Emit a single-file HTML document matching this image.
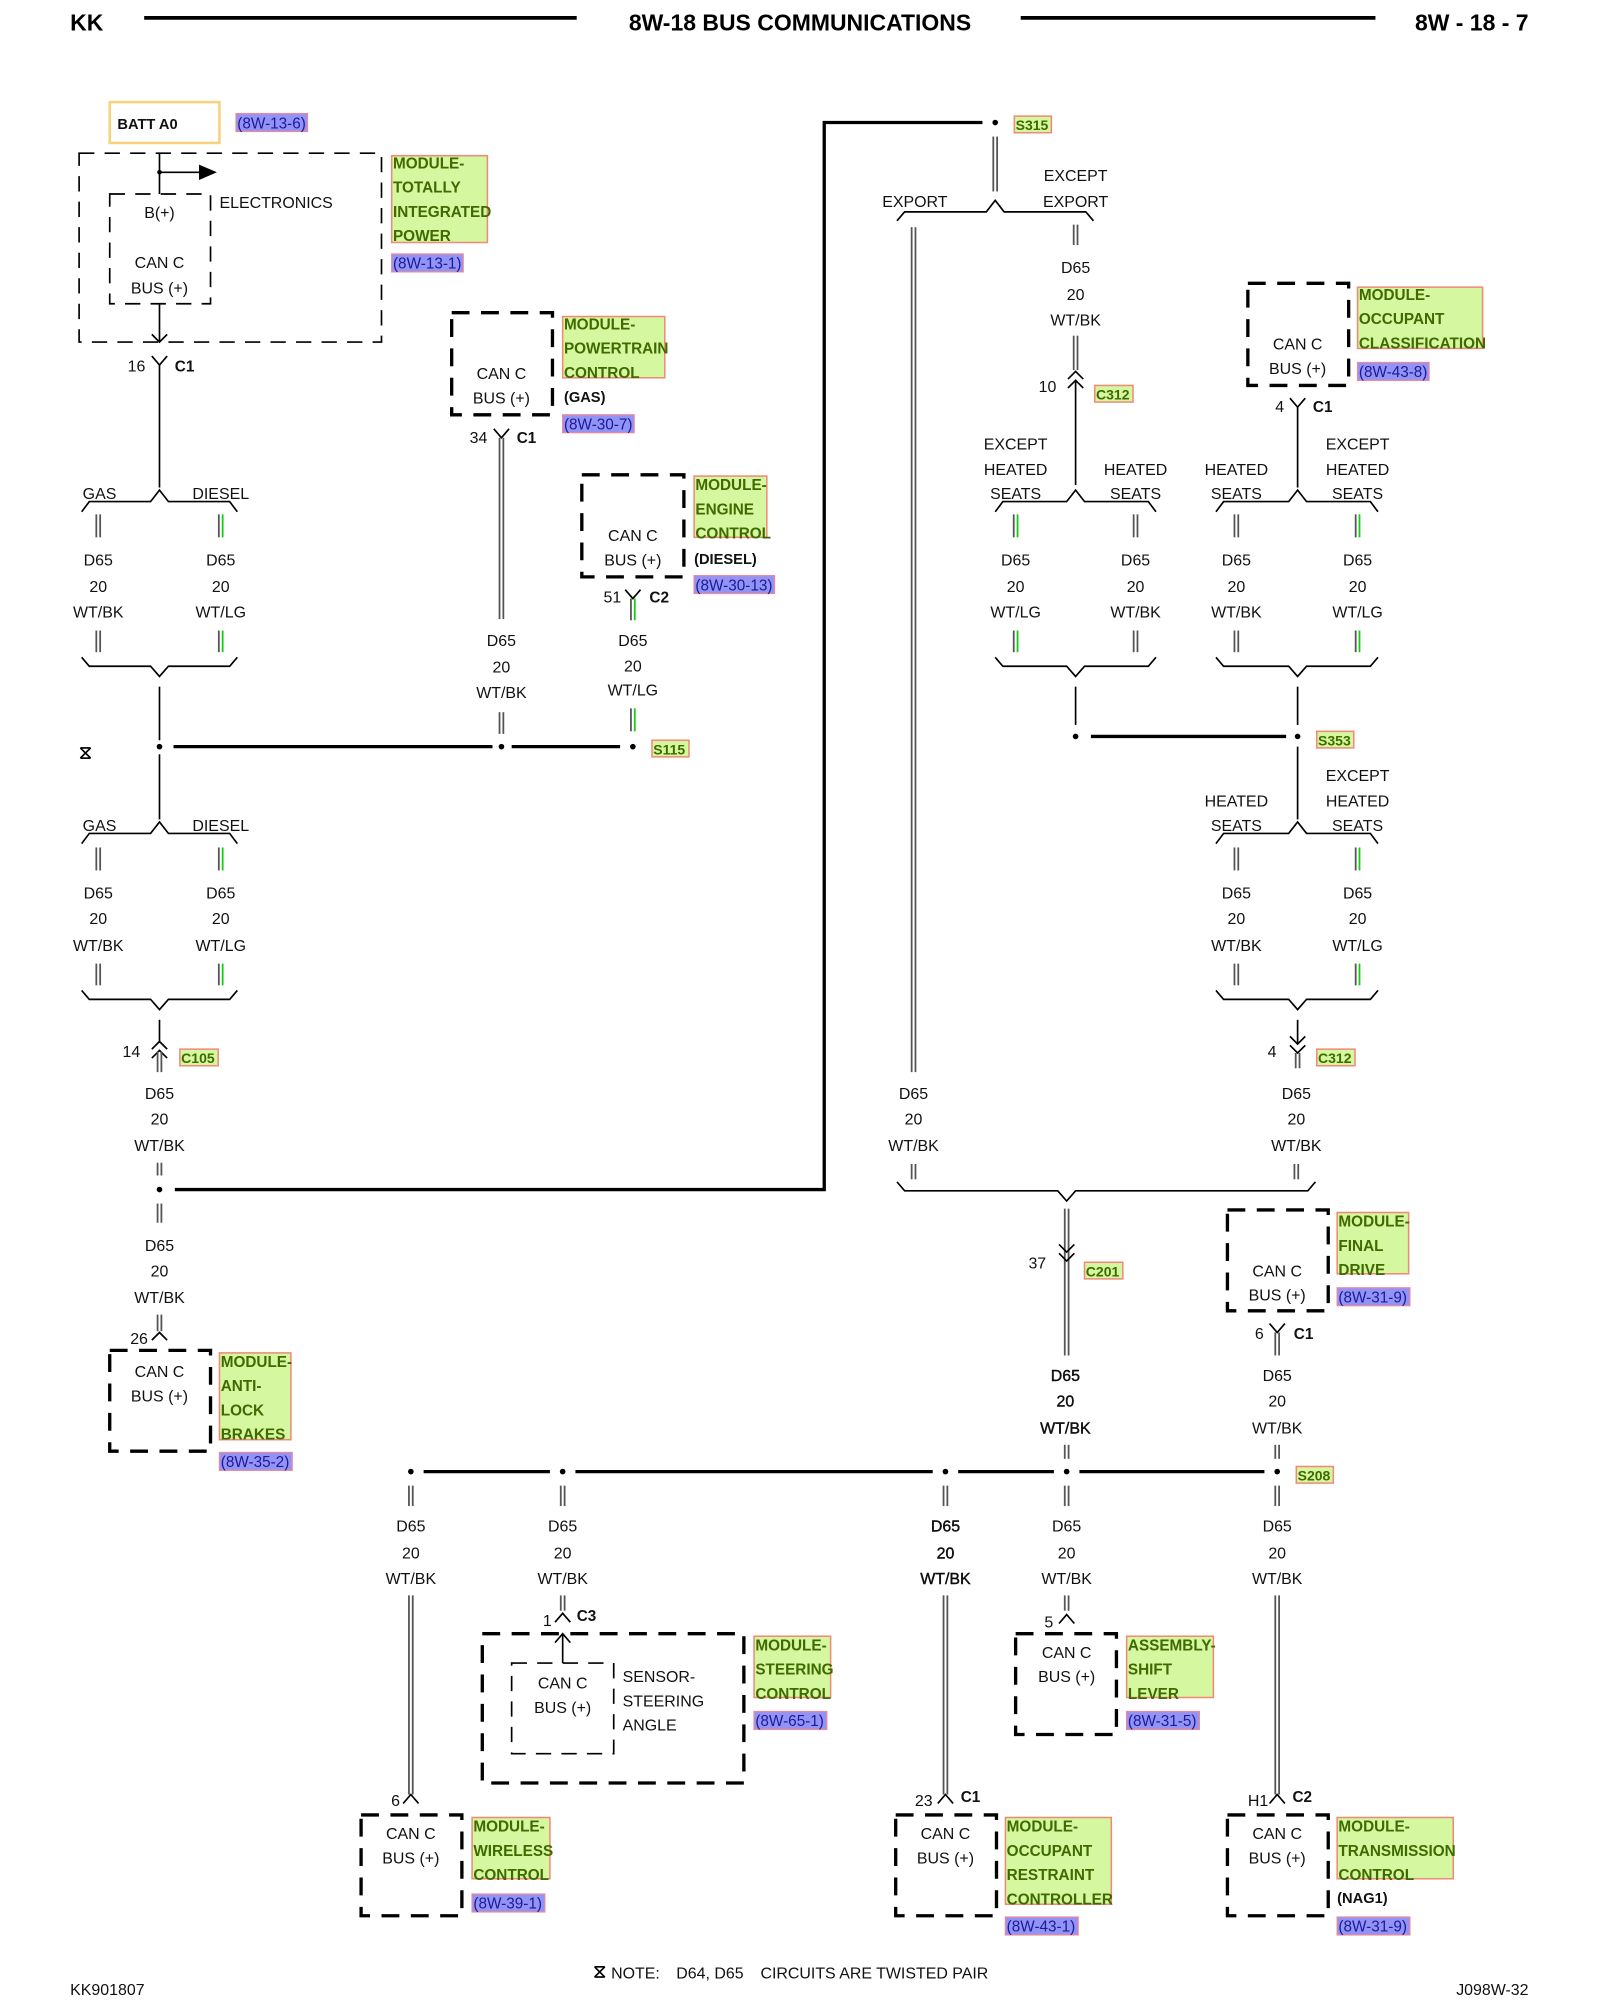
<!DOCTYPE html>
<html><head><meta charset="utf-8"><style>
html,body{margin:0;padding:0;background:#fff}
svg{display:block}
.t{font-family:"Liberation Sans",sans-serif;font-size:12.5px;text-anchor:middle;fill:#111}
.s{font-family:"Liberation Sans",sans-serif;font-size:12.5px;fill:#111}
.b{font-family:"Liberation Sans",sans-serif;font-size:12px;font-weight:bold;fill:#111}
.bt{font-family:"Liberation Sans",sans-serif;font-size:12.5px;font-weight:bold;text-anchor:middle;fill:#111}
.l{font-family:"Liberation Sans",sans-serif;font-size:12px;font-weight:bold;fill:#3f6a00}
.r{font-family:"Liberation Sans",sans-serif;font-size:12px;fill:#1a1a9a}
.lb{fill:#d5f7a0;stroke:#f08a78;stroke-width:1.2}
.rb{fill:#9393f5;stroke:#e88a9a;stroke-width:1}
.w{stroke:#000;stroke-width:1.3;fill:none}
.W{stroke:#000;stroke-width:3;fill:none}
.d{stroke:#555;stroke-width:1.4;fill:none}
.g{stroke:#1c1;stroke-width:1.4;fill:none}
.mb{stroke:#000;stroke-width:2.6;fill:none;stroke-dasharray:14 9}
.ib{stroke:#000;stroke-width:1.3;fill:none;stroke-dasharray:12 8}
</style></head><body>
<svg width="1600" height="2000" viewBox="0 0 1254 1567" preserveAspectRatio="none" xmlns="http://www.w3.org/2000/svg">
<!-- header -->
<text x="55" y="24" style="font-family:'Liberation Sans',sans-serif;font-size:18px;font-weight:bold">KK</text>
<line x1="113" y1="14" x2="452" y2="14" class="W"/>
<text x="627" y="24" style="font-family:'Liberation Sans',sans-serif;font-size:18px;font-weight:bold;text-anchor:middle">8W-18 BUS COMMUNICATIONS</text>
<line x1="800" y1="14" x2="1078" y2="14" class="W"/>
<text x="1198" y="24" style="font-family:'Liberation Sans',sans-serif;font-size:18px;font-weight:bold;text-anchor:end">8W - 18 - 7</text>

<!-- BATT A0 -->
<rect x="86" y="80" width="86" height="32" fill="none" stroke="#f7d27a" stroke-width="2"/>
<text x="92" y="101" class="b" style="font-size:11.5px">BATT A0</text>
<rect x="185" y="89" width="56" height="14" class="rb"/><text x="186" y="100.5" class="r">(8W-13-6)</text>

<!-- TIPM -->
<rect x="62" y="120" width="237" height="148" class="ib"/>
<rect x="86" y="152" width="79" height="86" class="ib"/>
<line x1="125" y1="120" x2="125" y2="152" class="w"/>
<line x1="125" y1="135" x2="158" y2="135" class="w"/>
<polygon points="156,129 170,135 156,141" fill="#000"/>
<circle cx="125" cy="135" r="1.8"/>
<text x="125" y="171" class="t">B(+)</text>
<text x="172" y="163" class="s">ELECTRONICS</text>
<text x="125" y="210" class="t">CAN C</text>
<text x="125" y="230" class="t">BUS (+)</text>
<line x1="125" y1="238" x2="125" y2="268" class="w"/>
<polyline points="119,262 125,268 131,262" class="w"/>
<rect x="307" y="122" width="75" height="68" class="lb"/>
<text x="308" y="132" class="l">MODULE-</text><text x="308" y="151" class="l">TOTALLY</text><text x="308" y="170" class="l">INTEGRATED</text><text x="308" y="189" class="l">POWER</text>
<rect x="307" y="199" width="56" height="14" class="rb"/><text x="308" y="210.5" class="r">(8W-13-1)</text>
<polyline points="119,279 125,286 131,279" class="w"/>
<text x="107" y="291" class="t">16</text><text x="137" y="291" class="b">C1</text>
<line x1="125" y1="286" x2="125" y2="382" class="w"/>

<!-- brace GAS/DIESEL 1 -->
<path d="M64 401 L70 393 L118 393 L125 384 L132 393 L180 393 L186 401" class="w"/>
<text x="78" y="391" class="t">GAS</text><text x="173" y="391" class="t">DIESEL</text>
<line x1="75.5" y1="403" x2="75.5" y2="421" class="d"/><line x1="78.5" y1="403" x2="78.5" y2="421" class="d"/>
<line x1="171.5" y1="403" x2="171.5" y2="421" class="d"/><line x1="174.5" y1="403" x2="174.5" y2="421" class="g"/>
<text x="77" y="443" class="t">D65</text><text x="77" y="464" class="t">20</text><text x="77" y="484" class="t">WT/BK</text>
<text x="173" y="443" class="t">D65</text><text x="173" y="464" class="t">20</text><text x="173" y="484" class="t">WT/LG</text>
<line x1="75.5" y1="494" x2="75.5" y2="511" class="d"/><line x1="78.5" y1="494" x2="78.5" y2="511" class="d"/>
<line x1="171.5" y1="494" x2="171.5" y2="511" class="d"/><line x1="174.5" y1="494" x2="174.5" y2="511" class="g"/>
<path d="M64 515 L70 522 L118 522 L125 530 L132 522 L180 522 L186 515" class="w"/>
<line x1="125" y1="538" x2="125" y2="580" class="w"/>

<!-- S115 bus -->
<circle cx="125" cy="585" r="2.2"/>
<line x1="136" y1="585" x2="386" y2="585" class="W" style="stroke-width:2.6"/>
<circle cx="393" cy="585" r="2.2"/>
<line x1="401" y1="585" x2="486" y2="585" class="W" style="stroke-width:2.6"/>
<circle cx="496" cy="585" r="2.2"/>
<rect x="511" y="580" width="29" height="13" class="lb"/><text x="512" y="591" class="l" style="font-size:11px">S115</text>
<g class="w"><line x1="63" y1="586" x2="71" y2="594"/><line x1="71" y1="586" x2="63" y2="594"/><line x1="63" y1="586" x2="71" y2="586"/><line x1="63" y1="594" x2="71" y2="594"/></g>

<!-- PCM -->
<rect x="354" y="245" width="79" height="80" class="mb"/>
<text x="393" y="297" class="t">CAN C</text><text x="393" y="316" class="t">BUS (+)</text>
<rect x="441" y="248" width="80" height="48" class="lb"/>
<text x="442" y="258" class="l">MODULE-</text><text x="442" y="277" class="l">POWERTRAIN</text><text x="442" y="296" class="l">CONTROL</text>
<text x="442" y="315" class="b" style="font-size:11.5px">(GAS)</text>
<rect x="441" y="325" width="56" height="14" class="rb"/><text x="442" y="336.5" class="r">(8W-30-7)</text>
<polyline points="387,336 393,343 399,336" class="w"/>
<text x="375" y="347" class="t">34</text><text x="405" y="347" class="b">C1</text>
<line x1="391.5" y1="343" x2="391.5" y2="485" class="d"/><line x1="394.5" y1="343" x2="394.5" y2="485" class="d"/>
<text x="393" y="506" class="t">D65</text><text x="393" y="527" class="t">20</text><text x="393" y="547" class="t">WT/BK</text>
<line x1="391.5" y1="558" x2="391.5" y2="575" class="d"/><line x1="394.5" y1="558" x2="394.5" y2="575" class="d"/>

<!-- ECM -->
<rect x="456" y="372" width="80" height="80" class="mb"/>
<text x="496" y="424" class="t">CAN C</text><text x="496" y="443" class="t">BUS (+)</text>
<rect x="544" y="373" width="57" height="48" class="lb"/>
<text x="545" y="384" class="l">MODULE-</text><text x="545" y="403" class="l">ENGINE</text><text x="545" y="422" class="l">CONTROL</text>
<text x="544" y="442" class="b" style="font-size:11.5px">(DIESEL)</text>
<rect x="544" y="451" width="63" height="14" class="rb"/><text x="545" y="462.5" class="r">(8W-30-13)</text>
<polyline points="490,462 496,469 502,462" class="w"/>
<text x="480" y="472" class="t">51</text><text x="509" y="472" class="b">C2</text>
<line x1="494.5" y1="469" x2="494.5" y2="486" class="d"/><line x1="497.5" y1="469" x2="497.5" y2="486" class="g"/>
<text x="496" y="506" class="t">D65</text><text x="496" y="526" class="t">20</text><text x="496" y="545" class="t">WT/LG</text>
<line x1="494.5" y1="555" x2="494.5" y2="573" class="d"/><line x1="497.5" y1="555" x2="497.5" y2="573" class="g"/>

<!-- left lower -->
<line x1="125" y1="591" x2="125" y2="642" class="w"/>
<path d="M64 661 L70 653 L118 653 L125 644 L132 653 L180 653 L186 661" class="w"/>
<text x="78" y="651" class="t">GAS</text><text x="173" y="651" class="t">DIESEL</text>
<line x1="75.5" y1="664" x2="75.5" y2="682" class="d"/><line x1="78.5" y1="664" x2="78.5" y2="682" class="d"/>
<line x1="171.5" y1="664" x2="171.5" y2="682" class="d"/><line x1="174.5" y1="664" x2="174.5" y2="682" class="g"/>
<text x="77" y="704" class="t">D65</text><text x="77" y="724" class="t">20</text><text x="77" y="745" class="t">WT/BK</text>
<text x="173" y="704" class="t">D65</text><text x="173" y="724" class="t">20</text><text x="173" y="745" class="t">WT/LG</text>
<line x1="75.5" y1="755" x2="75.5" y2="772" class="d"/><line x1="78.5" y1="755" x2="78.5" y2="772" class="d"/>
<line x1="171.5" y1="755" x2="171.5" y2="772" class="d"/><line x1="174.5" y1="755" x2="174.5" y2="772" class="g"/>
<path d="M64 776 L70 783 L118 783 L125 791 L132 783 L180 783 L186 776" class="w"/>
<line x1="125" y1="799" x2="125" y2="817" class="w"/>
<polyline points="119,822 125,816 131,822" class="w"/>
<polyline points="119,829 125,823 131,829" class="w"/>
<line x1="123.5" y1="824" x2="123.5" y2="840" class="d"/><line x1="126.5" y1="824" x2="126.5" y2="840" class="d"/>
<text x="103" y="828" class="t">14</text>
<rect x="141" y="822" width="30" height="13" class="lb"/><text x="142" y="833" class="l" style="font-size:11px">C105</text>
<text x="125" y="861" class="t">D65</text><text x="125" y="881" class="t">20</text><text x="125" y="902" class="t">WT/BK</text>
<line x1="123.5" y1="911" x2="123.5" y2="921" class="d"/><line x1="126.5" y1="911" x2="126.5" y2="921" class="d"/>
<circle cx="125" cy="932" r="2.2"/>
<polyline points="137,932 646,932 646,96 770,96" class="W" style="stroke-width:2.6"/>
<line x1="123.5" y1="943" x2="123.5" y2="958" class="d"/><line x1="126.5" y1="943" x2="126.5" y2="958" class="d"/>
<text x="125" y="980" class="t">D65</text><text x="125" y="1000" class="t">20</text><text x="125" y="1021" class="t">WT/BK</text>
<line x1="123.5" y1="1030" x2="123.5" y2="1043" class="d"/><line x1="126.5" y1="1030" x2="126.5" y2="1043" class="d"/>
<polyline points="119,1050 125,1044 131,1050" class="w"/>
<text x="109" y="1053" class="t">26</text>
<rect x="86" y="1058" width="79" height="79" class="mb"/>
<text x="125" y="1079" class="t">CAN C</text><text x="125" y="1098" class="t">BUS (+)</text>
<rect x="172" y="1060" width="56" height="68" class="lb"/>
<text x="173" y="1071" class="l">MODULE-</text><text x="173" y="1090" class="l">ANTI-</text><text x="173" y="1109" class="l">LOCK</text><text x="173" y="1128" class="l">BRAKES</text>
<rect x="172" y="1138" width="57" height="14" class="rb"/><text x="173" y="1149.5" class="r">(8W-35-2)</text>

<!-- S315 right -->
<circle cx="780" cy="96" r="2.2"/>
<rect x="795" y="91" width="29" height="13" class="lb"/><text x="796" y="102" class="l" style="font-size:11px">S315</text>
<line x1="778.5" y1="107" x2="778.5" y2="150" class="d"/><line x1="781.5" y1="107" x2="781.5" y2="150" class="d"/>
<path d="M703 173 L709 166 L773 166 L780 157 L787 166 L851 166 L857 173" class="w"/>
<text x="717" y="162" class="t">EXPORT</text><text x="843" y="142" class="t">EXCEPT</text><text x="843" y="162" class="t">EXPORT</text>
<line x1="714.5" y1="178" x2="714.5" y2="840" class="d"/><line x1="717.5" y1="178" x2="717.5" y2="840" class="d"/>
<text x="716" y="861" class="t">D65</text><text x="716" y="881" class="t">20</text><text x="716" y="902" class="t">WT/BK</text>
<line x1="714.5" y1="912" x2="714.5" y2="924" class="d"/><line x1="717.5" y1="912" x2="717.5" y2="924" class="d"/>
<line x1="841.5" y1="176" x2="841.5" y2="192" class="d"/><line x1="844.5" y1="176" x2="844.5" y2="192" class="d"/>
<text x="843" y="214" class="t">D65</text><text x="843" y="235" class="t">20</text><text x="843" y="255" class="t">WT/BK</text>
<line x1="841.5" y1="263" x2="841.5" y2="290" class="d"/><line x1="844.5" y1="263" x2="844.5" y2="290" class="d"/>
<polyline points="837,297 843,291 849,297" class="w"/>
<polyline points="837,304 843,298 849,304" class="w"/>
<line x1="843" y1="299" x2="843" y2="380" class="w"/>
<text x="821" y="307" class="t">10</text>
<rect x="858" y="302" width="30" height="13" class="lb"/><text x="859" y="313" class="l" style="font-size:11px">C312</text>

<!-- heated seats left -->
<path d="M780 401 L786 393 L836 393 L843 384 L850 393 L900 393 L906 401" class="w"/>
<text x="796" y="352" class="t">EXCEPT</text><text x="796" y="372" class="t">HEATED</text><text x="796" y="391" class="t">SEATS</text>
<text x="890" y="372" class="t">HEATED</text><text x="890" y="391" class="t">SEATS</text>
<line x1="794.5" y1="403" x2="794.5" y2="421" class="d"/><line x1="797.5" y1="403" x2="797.5" y2="421" class="g"/>
<line x1="888.5" y1="403" x2="888.5" y2="421" class="d"/><line x1="891.5" y1="403" x2="891.5" y2="421" class="d"/>
<text x="796" y="443" class="t">D65</text><text x="796" y="464" class="t">20</text><text x="796" y="484" class="t">WT/LG</text>
<text x="890" y="443" class="t">D65</text><text x="890" y="464" class="t">20</text><text x="890" y="484" class="t">WT/BK</text>
<line x1="794.5" y1="494" x2="794.5" y2="511" class="d"/><line x1="797.5" y1="494" x2="797.5" y2="511" class="g"/>
<line x1="888.5" y1="494" x2="888.5" y2="511" class="d"/><line x1="891.5" y1="494" x2="891.5" y2="511" class="d"/>
<path d="M780 515 L786 522 L836 522 L843 530 L850 522 L900 522 L906 515" class="w"/>
<line x1="843" y1="538" x2="843" y2="568" class="w"/>
<circle cx="843" cy="577" r="2.2"/>
<line x1="855" y1="577" x2="1008" y2="577" class="W" style="stroke-width:2.6"/>
<circle cx="1017" cy="577" r="2.2"/>
<rect x="1032" y="573" width="29" height="13" class="lb"/><text x="1033" y="584" class="l" style="font-size:11px">S353</text>

<!-- OCM -->
<rect x="978" y="222" width="79" height="80" class="mb"/>
<text x="1017" y="274" class="t">CAN C</text><text x="1017" y="293" class="t">BUS (+)</text>
<rect x="1064" y="225" width="98" height="48" class="lb"/>
<text x="1065" y="235" class="l">MODULE-</text><text x="1065" y="254" class="l">OCCUPANT</text><text x="1065" y="273" class="l">CLASSIFICATION</text>
<rect x="1064" y="284" width="56" height="14" class="rb"/><text x="1065" y="295.5" class="r">(8W-43-8)</text>
<polyline points="1011,312 1017,319 1023,312" class="w"/>
<text x="1003" y="323" class="t">4</text><text x="1029" y="323" class="b">C1</text>
<line x1="1017" y1="319" x2="1017" y2="382" class="w"/>
<path d="M953 401 L959 393 L1010 393 L1017 384 L1024 393 L1074 393 L1080 401" class="w"/>
<text x="969" y="372" class="t">HEATED</text><text x="969" y="391" class="t">SEATS</text>
<text x="1064" y="352" class="t">EXCEPT</text><text x="1064" y="372" class="t">HEATED</text><text x="1064" y="391" class="t">SEATS</text>
<line x1="967.5" y1="403" x2="967.5" y2="421" class="d"/><line x1="970.5" y1="403" x2="970.5" y2="421" class="d"/>
<line x1="1062.5" y1="403" x2="1062.5" y2="421" class="d"/><line x1="1065.5" y1="403" x2="1065.5" y2="421" class="g"/>
<text x="969" y="443" class="t">D65</text><text x="969" y="464" class="t">20</text><text x="969" y="484" class="t">WT/BK</text>
<text x="1064" y="443" class="t">D65</text><text x="1064" y="464" class="t">20</text><text x="1064" y="484" class="t">WT/LG</text>
<line x1="967.5" y1="494" x2="967.5" y2="511" class="d"/><line x1="970.5" y1="494" x2="970.5" y2="511" class="d"/>
<line x1="1062.5" y1="494" x2="1062.5" y2="511" class="d"/><line x1="1065.5" y1="494" x2="1065.5" y2="511" class="g"/>
<path d="M953 515 L959 522 L1010 522 L1017 530 L1024 522 L1074 522 L1080 515" class="w"/>
<line x1="1017" y1="538" x2="1017" y2="568" class="w"/>

<!-- right lower -->
<line x1="1017" y1="585" x2="1017" y2="642" class="w"/>
<path d="M953 661 L959 653 L1010 653 L1017 644 L1024 653 L1074 653 L1080 661" class="w"/>
<text x="969" y="632" class="t">HEATED</text><text x="969" y="651" class="t">SEATS</text>
<text x="1064" y="612" class="t">EXCEPT</text><text x="1064" y="632" class="t">HEATED</text><text x="1064" y="651" class="t">SEATS</text>
<line x1="967.5" y1="664" x2="967.5" y2="682" class="d"/><line x1="970.5" y1="664" x2="970.5" y2="682" class="d"/>
<line x1="1062.5" y1="664" x2="1062.5" y2="682" class="d"/><line x1="1065.5" y1="664" x2="1065.5" y2="682" class="g"/>
<text x="969" y="704" class="t">D65</text><text x="969" y="724" class="t">20</text><text x="969" y="745" class="t">WT/BK</text>
<text x="1064" y="704" class="t">D65</text><text x="1064" y="724" class="t">20</text><text x="1064" y="745" class="t">WT/LG</text>
<line x1="967.5" y1="755" x2="967.5" y2="772" class="d"/><line x1="970.5" y1="755" x2="970.5" y2="772" class="d"/>
<line x1="1062.5" y1="755" x2="1062.5" y2="772" class="d"/><line x1="1065.5" y1="755" x2="1065.5" y2="772" class="g"/>
<path d="M953 776 L959 783 L1010 783 L1017 791 L1024 783 L1074 783 L1080 776" class="w"/>
<line x1="1017" y1="799" x2="1017" y2="818" class="w"/>
<polyline points="1011,812 1017,818 1023,812" class="w"/>
<polyline points="1011,819 1017,825 1023,819" class="w"/>
<line x1="1015.5" y1="825" x2="1015.5" y2="837" class="d"/><line x1="1018.5" y1="825" x2="1018.5" y2="837" class="d"/>
<text x="997" y="828" class="t">4</text>
<rect x="1032" y="822" width="30" height="13" class="lb"/><text x="1033" y="833" class="l" style="font-size:11px">C312</text>
<text x="1016" y="861" class="t">D65</text><text x="1016" y="881" class="t">20</text><text x="1016" y="902" class="t">WT/BK</text>
<line x1="1014.5" y1="912" x2="1014.5" y2="924" class="d"/><line x1="1017.5" y1="912" x2="1017.5" y2="924" class="d"/>
<path d="M703 926 L709 933 L829 933 L836 941 L843 933 L1025 933 L1031 926" class="w"/>
<line x1="834.5" y1="947" x2="834.5" y2="1062" class="d"/><line x1="837.5" y1="947" x2="837.5" y2="1062" class="d"/>
<polyline points="830,975 836,981 842,975" class="w"/>
<polyline points="830,982 836,988 842,982" class="w"/>
<text x="813" y="994" class="t">37</text>
<rect x="850" y="989" width="30" height="13" class="lb"/><text x="851" y="1000" class="l" style="font-size:11px">C201</text>

<!-- FDM -->
<rect x="962" y="948" width="79" height="79" class="mb"/>
<text x="1001" y="1000" class="t">CAN C</text><text x="1001" y="1019" class="t">BUS (+)</text>
<rect x="1048" y="950" width="56" height="48" class="lb"/>
<text x="1049" y="961" class="l">MODULE-</text><text x="1049" y="980" class="l">FINAL</text><text x="1049" y="999" class="l">DRIVE</text>
<rect x="1048" y="1009" width="57" height="14" class="rb"/><text x="1049" y="1020.5" class="r">(8W-31-9)</text>
<polyline points="995,1037 1001,1044 1007,1037" class="w"/>
<text x="987" y="1049" class="t">6</text><text x="1014" y="1049" class="b">C1</text>
<line x1="999.5" y1="1044" x2="999.5" y2="1062" class="d"/><line x1="1002.5" y1="1044" x2="1002.5" y2="1062" class="d"/>
<text x="835" y="1082" class="bt" style="font-weight:normal;stroke:#000;stroke-width:0.3">D65</text><text x="835" y="1102" class="bt" style="font-weight:normal;stroke:#000;stroke-width:0.3">20</text><text x="835" y="1123" class="bt" style="font-weight:normal;stroke:#000;stroke-width:0.3">WT/BK</text>
<text x="1001" y="1082" class="t">D65</text><text x="1001" y="1102" class="t">20</text><text x="1001" y="1123" class="t">WT/BK</text>
<line x1="834.5" y1="1132" x2="834.5" y2="1143" class="d"/><line x1="837.5" y1="1132" x2="837.5" y2="1143" class="d"/>
<line x1="999.5" y1="1132" x2="999.5" y2="1143" class="d"/><line x1="1002.5" y1="1132" x2="1002.5" y2="1143" class="d"/>

<!-- bottom bus -->
<g class="W" style="stroke-width:2.6">
<line x1="332" y1="1153" x2="431" y2="1153"/><line x1="451" y1="1153" x2="731" y2="1153"/><line x1="751" y1="1153" x2="826" y2="1153"/><line x1="846" y1="1153" x2="991" y2="1153"/>
</g>
<circle cx="322" cy="1153" r="2.2"/><circle cx="441" cy="1153" r="2.2"/><circle cx="741" cy="1153" r="2.2"/><circle cx="836" cy="1153" r="2.2"/><circle cx="1001" cy="1153" r="2.2"/>
<rect x="1016" y="1149" width="29" height="13" class="lb"/><text x="1017" y="1160" class="l" style="font-size:11px">S208</text>
<g class="d">
<line x1="320.5" y1="1164" x2="320.5" y2="1180"/><line x1="323.5" y1="1164" x2="323.5" y2="1180"/>
<line x1="439.5" y1="1164" x2="439.5" y2="1180"/><line x1="442.5" y1="1164" x2="442.5" y2="1180"/>
<line x1="739.5" y1="1164" x2="739.5" y2="1180"/><line x1="742.5" y1="1164" x2="742.5" y2="1180"/>
<line x1="834.5" y1="1164" x2="834.5" y2="1180"/><line x1="837.5" y1="1164" x2="837.5" y2="1180"/>
<line x1="999.5" y1="1164" x2="999.5" y2="1180"/><line x1="1002.5" y1="1164" x2="1002.5" y2="1180"/>
</g>
<text x="322" y="1200" class="t">D65</text><text x="322" y="1221" class="t">20</text><text x="322" y="1241" class="t">WT/BK</text>
<text x="441" y="1200" class="t">D65</text><text x="441" y="1221" class="t">20</text><text x="441" y="1241" class="t">WT/BK</text>
<text x="741" y="1200" class="t" style="stroke:#000;stroke-width:0.3">D65</text><text x="741" y="1221" class="t" style="stroke:#000;stroke-width:0.3">20</text><text x="741" y="1241" class="t" style="stroke:#000;stroke-width:0.3">WT/BK</text>
<text x="836" y="1200" class="t">D65</text><text x="836" y="1221" class="t">20</text><text x="836" y="1241" class="t">WT/BK</text>
<text x="1001" y="1200" class="t">D65</text><text x="1001" y="1221" class="t">20</text><text x="1001" y="1241" class="t">WT/BK</text>

<!-- WCM -->
<line x1="320.5" y1="1250" x2="320.5" y2="1406" class="d"/><line x1="323.5" y1="1250" x2="323.5" y2="1406" class="d"/>
<polyline points="316,1413 322,1406 328,1413" class="w"/>
<text x="310" y="1415" class="t">6</text>
<rect x="283" y="1422" width="79" height="79" class="mb"/>
<text x="322" y="1441" class="t">CAN C</text><text x="322" y="1460" class="t">BUS (+)</text>
<rect x="370" y="1424" width="61" height="48" class="lb"/>
<text x="371" y="1435" class="l">MODULE-</text><text x="371" y="1454" class="l">WIRELESS</text><text x="371" y="1473" class="l">CONTROL</text>
<rect x="370" y="1484" width="57" height="14" class="rb"/><text x="371" y="1495.5" class="r">(8W-39-1)</text>

<!-- SCM -->
<line x1="439.5" y1="1250" x2="439.5" y2="1262" class="d"/><line x1="442.5" y1="1250" x2="442.5" y2="1262" class="d"/>
<polyline points="435,1271 441,1264 447,1271" class="w"/>
<text x="429" y="1274" class="t">1</text><text x="452" y="1270" class="b">C3</text>
<rect x="378" y="1280" width="205" height="117" class="mb"/>
<rect x="401" y="1303" width="80" height="71" class="ib"/>
<line x1="441" y1="1281" x2="441" y2="1303" class="w"/>
<polyline points="435,1287 441,1280 447,1287" class="w"/>
<text x="441" y="1323" class="t">CAN C</text><text x="441" y="1342" class="t">BUS (+)</text>
<text x="488" y="1318" class="s">SENSOR-</text><text x="488" y="1337" class="s">STEERING</text><text x="488" y="1356" class="s">ANGLE</text>
<rect x="591" y="1282" width="60" height="48" class="lb"/>
<text x="592" y="1293" class="l">MODULE-</text><text x="592" y="1312" class="l">STEERING</text><text x="592" y="1331" class="l">CONTROL</text>
<rect x="591" y="1341" width="57" height="14" class="rb"/><text x="592" y="1352.5" class="r">(8W-65-1)</text>

<!-- ORC -->
<line x1="739.5" y1="1250" x2="739.5" y2="1406" class="d"/><line x1="742.5" y1="1250" x2="742.5" y2="1406" class="d"/>
<polyline points="735,1413 741,1406 747,1413" class="w"/>
<text x="724" y="1415" class="t">23</text><text x="753" y="1412" class="b">C1</text>
<rect x="702" y="1422" width="79" height="79" class="mb"/>
<text x="741" y="1441" class="t">CAN C</text><text x="741" y="1460" class="t">BUS (+)</text>
<rect x="788" y="1424" width="83" height="68" class="lb"/>
<text x="789" y="1435" class="l">MODULE-</text><text x="789" y="1454" class="l">OCCUPANT</text><text x="789" y="1473" class="l">RESTRAINT</text><text x="789" y="1492" class="l">CONTROLLER</text>
<rect x="788" y="1502" width="57" height="14" class="rb"/><text x="789" y="1513.5" class="r">(8W-43-1)</text>

<!-- Shifter -->
<line x1="834.5" y1="1250" x2="834.5" y2="1262" class="d"/><line x1="837.5" y1="1250" x2="837.5" y2="1262" class="d"/>
<polyline points="830,1272 836,1265 842,1272" class="w"/>
<text x="822" y="1275" class="t">5</text>
<rect x="796" y="1280" width="79" height="79" class="mb"/>
<text x="836" y="1299" class="t">CAN C</text><text x="836" y="1318" class="t">BUS (+)</text>
<rect x="883" y="1282" width="68" height="48" class="lb"/>
<text x="884" y="1293" class="l">ASSEMBLY-</text><text x="884" y="1312" class="l">SHIFT</text><text x="884" y="1331" class="l">LEVER</text>
<rect x="883" y="1341" width="57" height="14" class="rb"/><text x="884" y="1352.5" class="r">(8W-31-5)</text>

<!-- TCM -->
<line x1="999.5" y1="1250" x2="999.5" y2="1406" class="d"/><line x1="1002.5" y1="1250" x2="1002.5" y2="1406" class="d"/>
<polyline points="995,1413 1001,1406 1007,1413" class="w"/>
<text x="986" y="1415" class="t">H1</text><text x="1013" y="1412" class="b">C2</text>
<rect x="962" y="1422" width="79" height="79" class="mb"/>
<text x="1001" y="1441" class="t">CAN C</text><text x="1001" y="1460" class="t">BUS (+)</text>
<rect x="1048" y="1424" width="91" height="48" class="lb"/>
<text x="1049" y="1435" class="l">MODULE-</text><text x="1049" y="1454" class="l">TRANSMISSION</text><text x="1049" y="1473" class="l">CONTROL</text>
<text x="1048" y="1491" class="b" style="font-size:11.5px">(NAG1)</text>
<rect x="1048" y="1502" width="57" height="14" class="rb"/><text x="1049" y="1513.5" class="r">(8W-31-9)</text>

<!-- footer -->
<g class="w"><line x1="466" y1="1541" x2="474" y2="1549"/><line x1="474" y1="1541" x2="466" y2="1549"/><line x1="466" y1="1541" x2="474" y2="1541"/><line x1="466" y1="1549" x2="474" y2="1549"/></g>
<text x="479" y="1550" class="s">NOTE:</text>
<text x="530" y="1550" class="s">D64, D65</text>
<text x="596" y="1550" class="s">CIRCUITS ARE TWISTED PAIR</text>
<text x="55" y="1563" class="s">KK901807</text>
<text x="1198" y="1563" class="s" style="text-anchor:end">J098W-32</text>
</svg>
</body></html>
